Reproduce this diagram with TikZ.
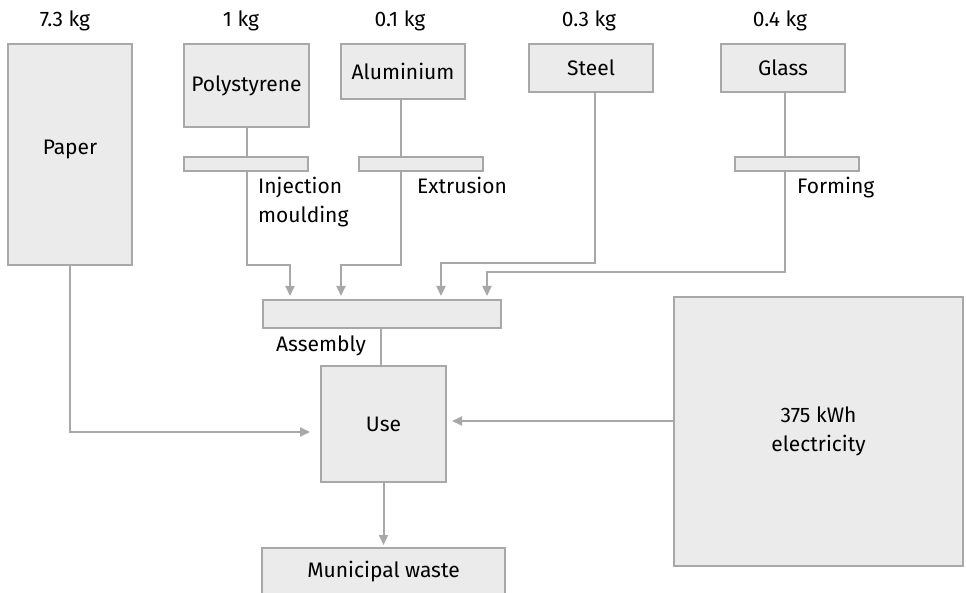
\documentclass[tikz,border=0pt]{standalone}
\usepackage{fontspec}
\setmainfont{Fira Sans}
\usetikzlibrary{arrows.meta}
\definecolor{boxfill}{HTML}{EBEBEB}
\definecolor{boxline}{HTML}{A8A8A8}
\begin{document}
\begin{tikzpicture}[x=1pt,y=-1pt,
  every node/.style={font=\fontsize{21}{29}\selectfont, text=black},
  box/.style={draw=boxline, fill=boxfill, line width=2pt, inner sep=0pt, align=center},
  bar/.style={draw=boxline, fill=boxfill, line width=2pt, inner sep=0pt},
  txt/.style={inner sep=0pt, anchor=base},
  txtl/.style={inner sep=0pt, anchor=base west, align=left},
  ln/.style={draw=boxline, line width=2pt},
  arr/.style={draw=boxline, line width=2pt, -{Triangle[length=10pt,width=9pt]}}]
\useasboundingbox (0,0) rectangle (966,593);
\clip (0,0) rectangle (966,593);

% masses
\node[txt] (m1) at (65,27) {7.3 kg};
\node[txt] (m2) at (241,27) {1 kg};
\node[txt] (m3) at (400,27) {0.1 kg};
\node[txt] (m4) at (589,27) {0.3 kg};
\node[txt] (m5) at (780,27) {0.4 kg};

% material boxes
\node[box, minimum width=124pt, minimum height=221pt] (paper) at (70,154.5) {};
\node[txt] (paperlbl) at (70,155) {Paper};
\node[box, minimum width=125pt, minimum height=83pt] (poly) at (246.5,85.5) {Polystyrene};
\node[box, minimum width=124pt, minimum height=55pt] (alu) at (403,71.5) {Aluminium};
\node[box, minimum width=124pt, minimum height=48pt] (steel) at (591,68) {Steel};
\node[box, minimum width=124pt, minimum height=48pt] (glass) at (783,68) {Glass};

% process bars
\node[bar, minimum width=124pt, minimum height=14pt] (inj) at (246,164) {};
\node[bar, minimum width=124pt, minimum height=14pt] (ext) at (421,164) {};
\node[bar, minimum width=124pt, minimum height=14pt] (form) at (797,164) {};
\node[bar, minimum width=238pt, minimum height=28pt] (asm) at (382,314) {};

\node[txtl] (injlbl) at (258,194) {Injection};
\node[txtl] (injlbl2) at (258,223) {moulding};
\node[txtl] (extlbl) at (417,194) {Extrusion};
\node[txtl] (formlbl) at (797,194) {Forming};
\node[txtl] (asmlbl) at (276,352) {Assembly};

% use, electricity, waste
\node[box, minimum width=125pt, minimum height=116pt] (use) at (383.5,424) {Use};
\node[box, minimum width=289pt, minimum height=269pt] (elec) at (818.5,431.5) {375 kWh\\electricity};
\node[box, minimum width=243pt, minimum height=48pt] (waste) at (383.5,572) {Municipal waste};

% connectors
\draw[ln] (poly.south -| 247,0) -- (inj.north -| 247,0);
\draw[ln] (alu.south -| 401,0) -- (ext.north -| 401,0);
\draw[ln] (glass.south -| 785,0) -- (form.north -| 785,0);

\draw[arr, shorten >=3pt] (inj.south -| 247,0) |- (290,265) -- (asm.north -| 290,0);
\draw[arr, shorten >=3pt] (ext.south -| 401,0) |- (341,265) -- (asm.north -| 341,0);
\draw[arr, shorten >=3pt] (steel.south -| 595,0) |- (441,263) -- (asm.north -| 441,0);
\draw[arr, shorten >=3pt] (form.south -| 785,0) |- (487,272) -- (asm.north -| 487,0);

\draw[ln] (asm.south -| 381,0) -- (use.north -| 381,0);
\draw[arr, shorten >=10pt] (paper.south) |- (use.west |- 0,432);
\draw[arr, shorten >=5pt] (elec.west |- 0,421) -- (use.east |- 0,421);
\draw[arr, shorten >=2pt] (use.south) -- (waste.north);
\end{tikzpicture}
\end{document}
